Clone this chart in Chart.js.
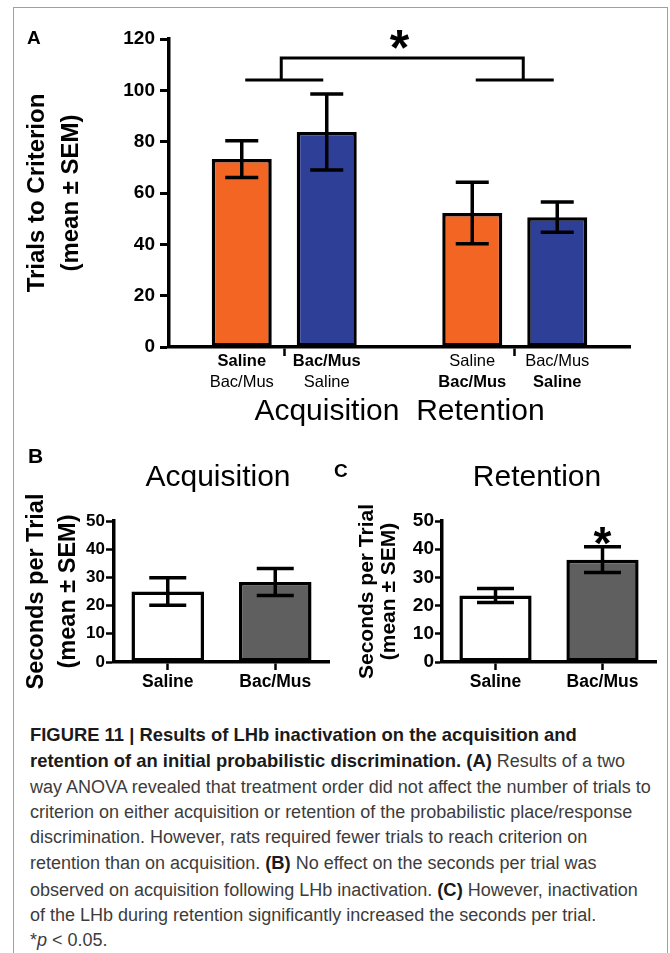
<!DOCTYPE html>
<html>
<head>
<meta charset="utf-8">
<title>Figure 11</title>
<script src="https://cdn.jsdelivr.net/npm/chart.js@4.4.1/dist/chart.umd.min.js"></script>
<style>
  body { margin: 0; background: #fff; }
  #page { position: relative; width: 670px; height: 953px; overflow: hidden; font-family: "Liberation Sans", Arial, sans-serif; }
  #frame { position: absolute; left: 13px; top: 7px; width: 655px; height: 1000px; border: 1px solid #a0a0a0; box-sizing: border-box; }
  canvas { position: absolute; }
  #chartA { left: 0; top: 0; }
  #chartB { left: 0; top: 440px; }
  #chartC { left: 335px; top: 440px; }
  .tag { position: absolute; font-weight: bold; line-height: 1; color: #000; }
  #caption { position: absolute; left: 30px; top: 722px; font-size: 18px; line-height: 25.3px; color: #3c3c3c; white-space: nowrap; }
  #caption b { color: #1a1a1a; font-size: 18.4px; }
</style>
</head>
<body>
<div id="page">
  <div id="frame"></div>
  <canvas id="chartA" width="670" height="430"></canvas>
  <canvas id="chartB" width="335" height="260"></canvas>
  <canvas id="chartC" width="335" height="260"></canvas>
  <div class="tag" style="left:27px;top:28px;font-size:19px">A</div>
  <div class="tag" style="left:28px;top:445px;font-size:21px">B</div>
  <div class="tag" style="left:334px;top:461px;font-size:19px">C</div>
  <div id="caption">
    <b>FIGURE 11 | Results of LHb inactivation on the acquisition and</b><br>
    <b>retention of an initial probabilistic discrimination. (A)</b> Results of a two<br>
    way ANOVA revealed that treatment order did not affect the number of trials to<br>
    criterion on either acquisition or retention of the probabilistic place/response<br>
    discrimination. However, rats required fewer trials to reach criterion on<br>
    retention than on acquisition. <b>(B)</b> No effect on the seconds per trial was<br>
    observed on acquisition following LHb inactivation. <b>(C)</b> However, inactivation<br>
    of the LHb during retention significantly increased the seconds per trial.<br>
    *<i>p</i> &lt; 0.05.
  </div>
</div>
<script>
// panel A: trials to criterion, two treatment orders
const phases = ['Acquisition', 'Retention'];
const salineFirst = [73.2, 52.2];
const salineFirstSem = [7.2, 12.0];
const bacMusFirst = [83.8, 50.6];
const bacMusFirstSem = [14.8, 5.9];
const salineFirstOrder = ['Saline', 'Bac/Mus'];
const bacMusFirstOrder = ['Bac/Mus', 'Saline'];
const trialTicks = [0, 20, 40, 60, 80, 100, 120];

// panels B and C: seconds per trial
const treatments = ['Saline', 'Bac/Mus'];
const acqSeconds = [25.0, 28.4];
const acqSecondsSem = [4.9, 4.8];
const retSeconds = [23.6, 36.3];
const retSecondsSem = [2.5, 4.6];
const secondTicks = [0, 10, 20, 30, 40, 50];

const family = '"Liberation Sans", Arial, sans-serif';
Chart.defaults.font.family = family;
Chart.defaults.color = '#000';

const errorBars = {
    id: 'errorBars',
    afterDatasetsDraw(chart, args, opts) {
        const { ctx, scales: { y } } = chart;
        ctx.save();
        ctx.strokeStyle = '#000';
        ctx.lineWidth = 3.5;
        chart.data.datasets.forEach((ds, i) => {
            chart.getDatasetMeta(i).data.forEach((bar, j) => {
                const hi = y.getPixelForValue(ds.data[j] + ds.errors[j]);
                const lo = y.getPixelForValue(ds.data[j] - ds.errors[j]);
                const w = opts.cap / 2;
                ctx.beginPath();
                ctx.moveTo(bar.x, hi); ctx.lineTo(bar.x, lo);
                ctx.moveTo(bar.x - w, hi); ctx.lineTo(bar.x + w, hi);
                ctx.moveTo(bar.x - w, lo); ctx.lineTo(bar.x + w, lo);
                ctx.stroke();
            });
        });
        ctx.restore();
    }
};

// asterisk, either over one bar or halfway between two categories
const star = {
    id: 'star',
    afterDraw(chart, args, opts) {
        const { ctx, scales: { x, y } } = chart;
        const px = opts.between
            ? (x.getPixelForValue(opts.between[0]) + x.getPixelForValue(opts.between[1])) / 2
            : chart.getDatasetMeta(0).data[opts.index].x;
        ctx.save();
        ctx.font = 'bold ' + opts.size + 'px ' + family;
        ctx.textAlign = 'center';
        ctx.textBaseline = 'alphabetic';
        ctx.fillStyle = '#000';
        ctx.fillText('*', px, y.getPixelForValue(opts.value) + opts.size * 0.59);
        ctx.restore();
    }
};

// comparison bracket for panel A
const bracket = {
    id: 'bracket',
    afterDraw(chart, args, opts) {
        const { ctx, scales: { x, y } } = chart;
        const low = y.getPixelForValue(opts.low);
        const high = y.getPixelForValue(opts.high);
        const c0 = x.getPixelForValue(0), c1 = x.getPixelForValue(1);
        ctx.save();
        ctx.strokeStyle = '#000';
        ctx.lineWidth = 3;
        ctx.beginPath();
        ctx.moveTo(c0 - opts.half, low); ctx.lineTo(c0 + opts.half, low);
        ctx.moveTo(c1 - opts.half, low); ctx.lineTo(c1 + opts.half, low);
        ctx.moveTo(c0 + opts.dx[0], low); ctx.lineTo(c0 + opts.dx[0], high);
        ctx.lineTo(c1 + opts.dx[1], high); ctx.lineTo(c1 + opts.dx[1], low);
        ctx.stroke();
        ctx.restore();
    }
};

// two-line treatment order under each bar, the current phase in bold
const barLabels = {
    id: 'barLabels',
    afterDraw(chart, args, opts) {
        const { ctx, chartArea } = chart;
        ctx.save();
        ctx.fillStyle = '#000';
        ctx.textAlign = 'center';
        ctx.textBaseline = 'middle';
        chart.data.datasets.forEach((ds, i) => {
            chart.getDatasetMeta(i).data.forEach((bar, j) => {
                ds.sequence.forEach((name, k) => {
                    ctx.font = (k === j ? 'bold ' : '') + opts.size + 'px ' + family;
                    ctx.fillText(name, bar.x, chartArea.bottom + opts.rows[k]);
                });
            });
        });
        ctx.restore();
    }
};

const nudgeTitle = {
    id: 'nudgeTitle',
    afterLayout(chart, args, opts) {
        const t = chart.titleBlock;
        if (t) { t.left += opts.dx; t.right += opts.dx; }
    }
};

new Chart(document.getElementById('chartA'), {
    type: 'bar',
    data: {
        labels: phases,
        datasets: [
            {
                label: 'Saline first',
                data: salineFirst,
                errors: salineFirstSem,
                sequence: salineFirstOrder,
                backgroundColor: '#F26522',
                borderColor: '#000',
                borderWidth: 3.5,
                borderSkipped: false,
                categoryPercentage: 0.7375,
                barPercentage: 0.706
            },
            {
                label: 'Bac/Mus first',
                data: bacMusFirst,
                errors: bacMusFirstSem,
                sequence: bacMusFirstOrder,
                backgroundColor: '#2E3F98',
                borderColor: '#000',
                borderWidth: 3.5,
                borderSkipped: false,
                categoryPercentage: 0.7375,
                barPercentage: 0.706
            }
        ]
    },
    options: {
        responsive: false,
        animation: false,
        layout: { padding: { top: 39, right: 40, left: 0, bottom: 0 } },
        scales: {
            x: {
                afterFit: s => { s.height = 83; },
                border: { color: '#000', width: 3.5 },
                grid: { offset: false, drawOnChartArea: false, tickColor: '#000', tickLength: 9, tickWidth: 2.5 },
                ticks: { display: false },
                title: { display: true, text: 'Acquisition  Retention', font: { size: 30, lineHeight: 1.2 }, padding: 0, color: '#000' }
            },
            y: {
                min: 0,
                max: 120,
                afterBuildTicks: s => { s.ticks = trialTicks.map(v => ({ value: v })); },
                afterFit: s => { s.width = 169; },
                border: { color: '#000', width: 3.5 },
                grid: { drawOnChartArea: false, tickColor: '#000', tickLength: 9, tickWidth: 3 },
                ticks: { font: { size: 19, weight: 'bold' }, color: '#000', padding: 5 },
                title: {
                    display: true,
                    text: ['Trials to Criterion', '(mean ± SEM)'],
                    font: { size: 24, weight: 'bold', lineHeight: 1.44 },
                    padding: { top: 20, bottom: 0 },
                    color: '#000'
                }
            }
        },
        plugins: {
            legend: { display: false },
            tooltip: { enabled: false },
            errorBars: { cap: 33 },
            bracket: { low: 104, high: 112.6, half: 39, dx: [-3, 8.5] },
            star: { between: [0, 1], value: 121.2, size: 50 },
            barLabels: { size: 16.5, rows: [14, 35] }
        }
    },
    plugins: [errorBars, bracket, star, barLabels]
});

function secondsChart(id, heading, values, sems, p) {
    return new Chart(document.getElementById(id), {
        type: 'bar',
        data: {
            labels: treatments,
            datasets: [{
                data: values,
                errors: sems,
                backgroundColor: ['#FFFFFF', '#5F5F5F'],
                borderColor: '#000',
                borderWidth: 3.5,
                borderSkipped: false,
                categoryPercentage: 0.675,
                barPercentage: 1
            }]
        },
        options: {
            responsive: false,
            animation: false,
            layout: { padding: { top: 0, right: p.right, left: 0, bottom: 0 } },
            scales: {
                x: {
                    afterFit: s => { s.height = 38; },
                    border: { color: '#000', width: 3.5 },
                    grid: { offset: false, drawOnChartArea: false, tickColor: '#000', tickLength: 8, tickWidth: 2.5 },
                    ticks: { font: { size: 17.5, weight: 'bold' }, color: '#000', padding: 2 }
                },
                y: {
                    min: 0,
                    max: 50,
                    afterBuildTicks: s => { s.ticks = secondTicks.map(v => ({ value: v })); },
                    afterFit: s => { s.width = p.axisWidth; },
                    border: { color: '#000', width: 3.5 },
                    grid: { drawOnChartArea: false, tickColor: '#000', tickLength: p.tick, tickWidth: 2.5 },
                    ticks: { font: { size: p.tickFont, weight: 'bold' }, color: '#000', padding: 1 },
                    title: {
                        display: true,
                        text: ['Seconds per Trial', '(mean ± SEM)'],
                        font: { size: p.titleFont, weight: 'bold', lineHeight: p.titleLine },
                        padding: { top: p.titlePad, bottom: 0 },
                        color: '#000'
                    }
                }
            },
            plugins: {
                legend: { display: false },
                tooltip: { enabled: false },
                title: {
                    display: true,
                    text: heading,
                    fullSize: false,
                    color: '#000',
                    font: { size: 30, weight: 'normal', lineHeight: 1.2 },
                    padding: { top: 20, bottom: 25 }
                },
                nudgeTitle: { dx: p.titleShift },
                errorBars: { cap: 37 },
                star: p.star || { index: 0, value: -100, size: 1 }
            }
        },
        plugins: [errorBars, nudgeTitle, star]
    });
}

secondsChart('chartB', 'Acquisition', acqSeconds, acqSecondsSem, {
    right: 6, axisWidth: 114, tick: 8, tickFont: 17,
    titleFont: 23.5, titleLine: 1.32, titlePad: 21.5, titleShift: -3.5
});

secondsChart('chartC', 'Retention', retSeconds, retSecondsSem, {
    right: 14, axisWidth: 107, tick: 7, tickFont: 19,
    titleFont: 21, titleLine: 1.05, titlePad: 21, titleShift: -12,
    star: { index: 1, value: 46.1, size: 46 }
});
</script>
</body>
</html>
